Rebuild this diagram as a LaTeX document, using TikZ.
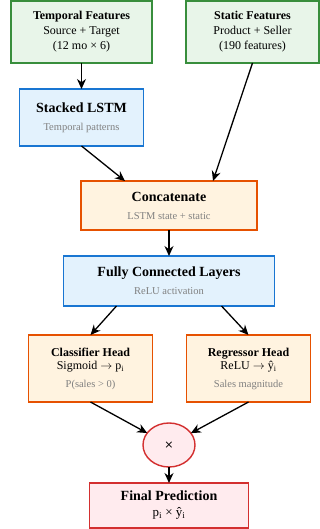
\documentclass[tikz,border=0pt]{standalone}
\usepackage{fontspec}
\setmainfont{Liberation Serif}
\newfontfamily\symfont{DejaVu Sans}
\usepackage{tikz}
\usetikzlibrary{arrows.meta,positioning,shapes.geometric}

\definecolor{featfill}{HTML}{E8F5E9}
\definecolor{featdraw}{HTML}{388E3C}
\definecolor{nnfill}{HTML}{E3F2FD}
\definecolor{nndraw}{HTML}{1976D2}
\definecolor{opfill}{HTML}{FFF3E0}
\definecolor{opdraw}{HTML}{E65100}
\definecolor{outfill}{HTML}{FFEBEE}
\definecolor{outdraw}{HTML}{D32F2F}
\definecolor{subgray}{HTML}{808080}

\newcommand{\subtxt}[1]{{\color{subgray}\fontsize{10.5}{12}\selectfont #1}}

\begin{document}
\begin{tikzpicture}[x=1pt,y=1pt]
	\tikzstyle{box}
	  =[draw, rectangle, line width=1.4pt, align=center, inner sep=2pt, outer sep=0pt]
	\tikzstyle{feat}
	  =[box, fill=featfill, draw=featdraw, minimum height=62pt,
	  font=\fontsize{12}{15}\selectfont]
	\tikzstyle{nn}
	  =[box, fill=nnfill, draw=nndraw, font=\fontsize{14}{17}\selectfont]
	\tikzstyle{op}
	  =[box, fill=opfill, draw=opdraw, font=\fontsize{14}{17}\selectfont]
	\tikzstyle{head}
	  =[op, minimum width=124pt, minimum height=67pt,
	  font=\fontsize{12}{13.5}\selectfont]
	\tikzstyle{arr}
	  =[-{Stealth[length=10pt,width=9pt]}, line width=1.3pt]

	\useasboundingbox (0,0) rectangle (320,-529);

	% inputs
	\node[feat, minimum width=141pt] (temporal)
	  at (81.5,-32) {\textbf{Temporal Features}\\Source + Target\\(12 mo × 6)};
	\node[feat, minimum width=133pt] (static)
	  [right=34pt of temporal] {\textbf{Static Features}\\Product + Seller\\(190 features)};

	\node[nn, minimum width=124pt, minimum height=57pt] (lstm)
	  [below=26pt of temporal] {\textbf{Stacked LSTM}\\[1pt]\subtxt{Temporal patterns}};

	\node[op, minimum width=176pt, minimum height=49pt] (concat)
	  [below=35pt of lstm, xshift=87.5pt] {\textbf{Concatenate}\\[1pt]\subtxt{LSTM state + static}};

	\node[nn, minimum width=211pt, minimum height=50pt] (fc)
	  [below=26pt of concat] {\textbf{Fully Connected Layers}\\[1pt]\subtxt{ReLU activation}};

	% heads
	\node[head] (cls)
	  [below=29pt of fc, xshift=-78.5pt] {\textbf{Classifier Head}\\Sigmoid $\rightarrow$ p\textsubscript{i}\\[4pt]\subtxt{P(sales > 0)}};
	\node[head] (reg)
	  [right=34pt of cls] {\textbf{Regressor Head}\\ReLU $\rightarrow$ ŷ\textsubscript{i}\\[4pt]\subtxt{Sales magnitude}};

	\coordinate (mid) at (fc.south |- cls.south);
	\node[draw=outdraw, fill=outfill, line width=1.4pt, ellipse, outer sep=0pt,
	  minimum width=52pt, minimum height=44pt, inner sep=0pt] (mult)
	  [below=21pt of mid] {\symfont\fontsize{11}{13}\selectfont ×};

	\node[box, fill=outfill, draw=outdraw, minimum width=159pt, minimum height=45pt,
	  font=\fontsize{14}{16}\selectfont] (final)
	  [below=16pt of mult] {\textbf{Final Prediction}\\\fontsize{13}{15}\selectfont p\textsubscript{i} × ŷ\textsubscript{i}};

	% connectors
	\draw[arr] (temporal) -- (lstm);
	\draw[arr] (lstm.south) -- ([xshift=44pt]concat.north west);
	\draw[arr] (static.south) -- ([xshift=-44pt]concat.north east);
	\draw[arr] (concat) -- (fc);
	\draw[arr] ([xshift=53pt]fc.south west) -- (cls.north);
	\draw[arr] ([xshift=-53pt]fc.south east) -- (reg.north);
	\draw[arr] (cls.south) -- (mult);
	\draw[arr] (reg.south) -- (mult);
	\draw[arr] (mult) -- (final);
\end{tikzpicture}
\end{document}
